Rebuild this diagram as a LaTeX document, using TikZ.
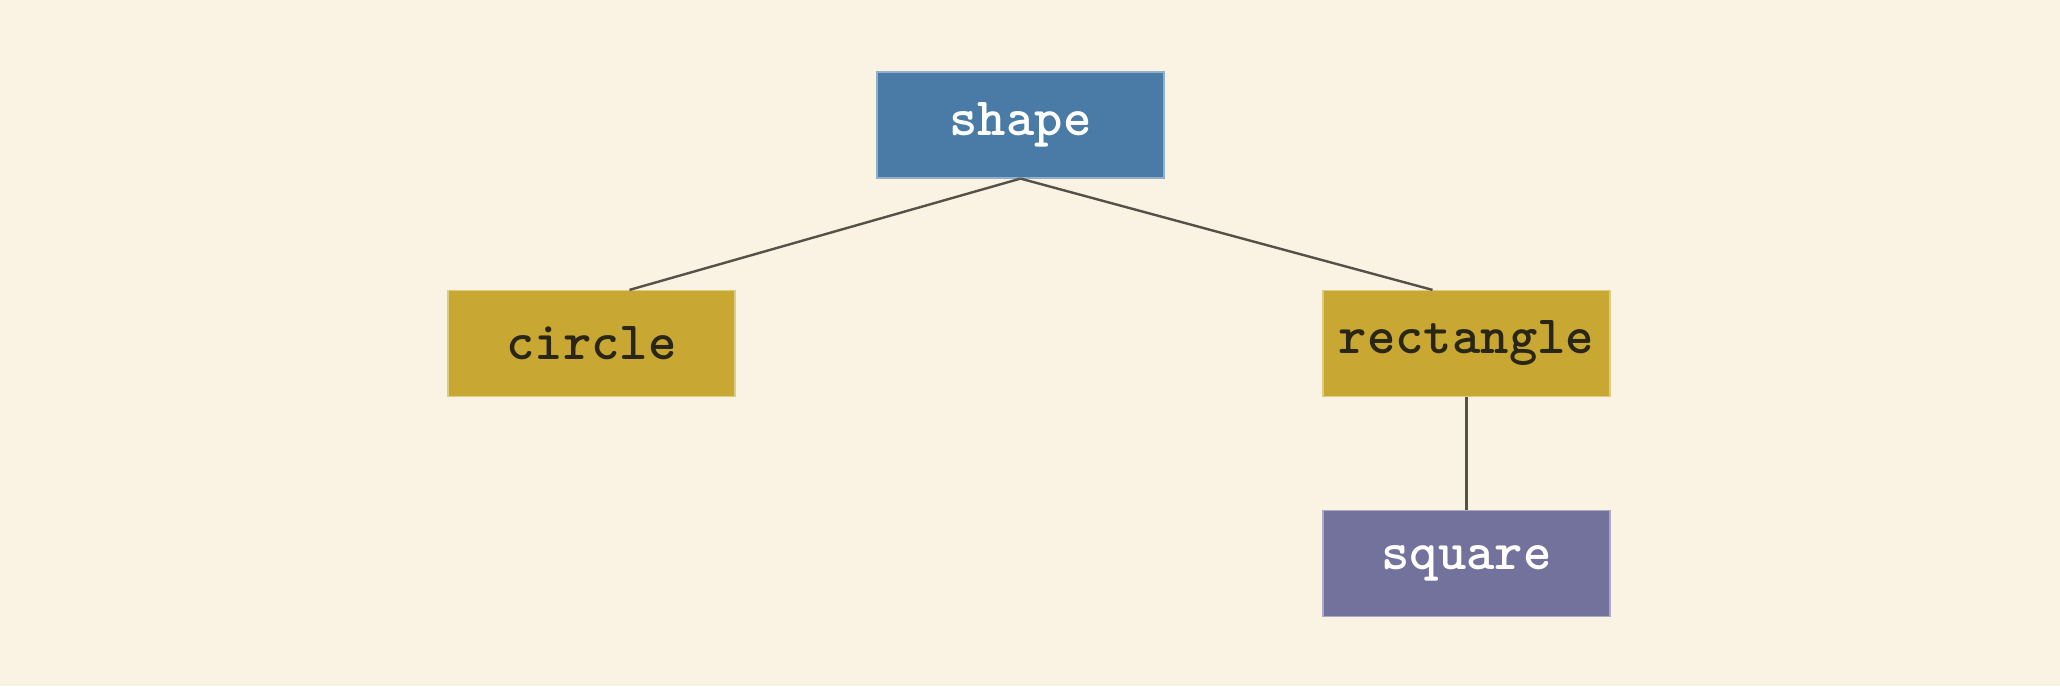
\documentclass[tikz,border=0pt]{standalone}
\usepackage{fontspec}
\usetikzlibrary{calc}
\definecolor{bg}{HTML}{FAF3E3}
\definecolor{shapeblue}{HTML}{4A7BA6}
\definecolor{gold}{HTML}{C8A832}
\definecolor{lav}{HTML}{73729C}
\definecolor{darktext}{HTML}{2A2616}
\definecolor{edgec}{HTML}{555048}
\tikzset{
  box/.style={rectangle, minimum width=287pt, minimum height=106pt, inner sep=0pt,
    font=\fontsize{54}{58}\selectfont\ttfamily\bfseries, draw=#1!60!white, line width=1.2pt},
  bluebox/.style={box=shapeblue, fill=shapeblue, text=white},
  goldbox/.style={box=gold, fill=gold, text=darktext},
  lavbox/.style={box=lav, fill=lav, text=white},
  link/.style={draw=edgec, line width=2.4pt}
}
\begin{document}
\begin{tikzpicture}[x=1pt,y=-1pt]
\fill[bg] (0,0) rectangle (2060,686);
\useasboundingbox (0,0) rectangle (2060,686);
\node[bluebox] (shape) at (1020.5,125) {shape};
\node[goldbox] (circle) at (591.5,343.5) {circle};
\node[goldbox] (rect) at (1466.5,343.5) {rectangle};
\node[lavbox] (square) at (1466.5,563.5) {square};
\draw[link] (shape.south) -- ([xshift=38pt]circle.north);
\draw[link] (shape.south) -- ([xshift=-34pt]rect.north);
\draw[link] (rect.south) -- (square.north);
\end{tikzpicture}
\end{document}
